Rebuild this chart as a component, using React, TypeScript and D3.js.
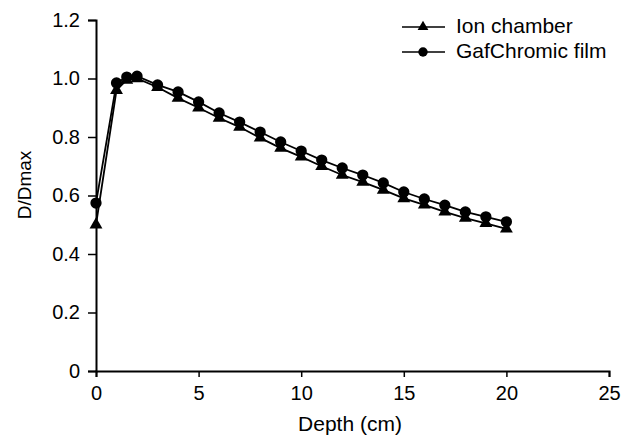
import React, { useEffect, useRef } from 'react';
import * as d3 from 'd3';

// depth (cm) of each measurement
const depths = [0, 1, 1.5, 2, 3, 4, 5, 6, 7, 8, 9, 10, 11, 12, 13, 14, 15, 16, 17, 18, 19, 20];
// D/Dmax, ion chamber
const ionChamber = [0.5, 0.96, 0.995, 1.0, 0.97, 0.933, 0.9, 0.865, 0.834, 0.797, 0.762, 0.732, 0.7, 0.67, 0.646, 0.619, 0.59, 0.568, 0.544, 0.523, 0.505, 0.486];
// D/Dmax, GafChromic film
const gafFilm = [0.574, 0.985, 1.005, 1.008, 0.978, 0.954, 0.92, 0.882, 0.851, 0.817, 0.783, 0.752, 0.721, 0.694, 0.67, 0.643, 0.612, 0.588, 0.567, 0.544, 0.527, 0.51];

const xTicks = [0, 5, 10, 15, 20, 25];
const yTicks = [0, 0.2, 0.4, 0.6, 0.8, 1.0, 1.2];

const seriesNames = ['Ion chamber', 'GafChromic film'];

const W = 637;
const H = 440;
const FONT = '"Liberation Sans", Arial, sans-serif';

const App = () => {
  const svgRef = useRef(null);

  useEffect(() => {
    const svg = d3.select(svgRef.current);
    svg.selectAll('*').remove();

    const x = d3.scaleLinear().domain([0, 25]).range([96, 609]);
    const y = d3.scaleLinear().domain([0, 1.2]).range([371, 20]);

    const xAxis = d3.axisBottom(x).tickValues(xTicks).tickFormat(d3.format('d')).tickSizeOuter(0).tickSize(6).tickPadding(9);
    const yAxis = d3
      .axisLeft(y)
      .tickValues(yTicks)
      .tickFormat(d => (d === 0 ? '0' : d3.format('.1f')(d)))
      .tickSizeOuter(0)
      .tickSize(8)
      .tickPadding(8);

    const gx = svg.append('g').attr('transform', `translate(0,${y(0)})`).call(xAxis);
    const gy = svg.append('g').attr('transform', `translate(${x(0)},0)`).call(yAxis);

    [gx, gy].forEach(g => {
      g.select('.domain').attr('stroke', '#000').attr('stroke-width', 2);
      g.selectAll('.tick line').attr('stroke', '#000').attr('stroke-width', 1.5);
      g.selectAll('.tick text').attr('fill', '#000').style('font-family', FONT).style('font-size', '20px');
    });

    // axis titles
    svg
      .append('text')
      .attr('x', 350)
      .attr('y', 431)
      .attr('text-anchor', 'middle')
      .style('font-family', FONT)
      .style('font-size', '21px')
      .text('Depth (cm)');

    svg
      .append('text')
      .attr('transform', 'translate(31,185) rotate(-90)')
      .attr('text-anchor', 'middle')
      .style('font-family', FONT)
      .style('font-size', '19px')
      .text('D/Dmax');

    const series = [
      { name: seriesNames[0], values: ionChamber, symbol: d3.symbolTriangle, size: 72 },
      { name: seriesNames[1], values: gafFilm, symbol: d3.symbolCircle, size: 100 },
    ];

    const line = d3
      .line()
      .x(d => x(d[0]))
      .y(d => y(d[1]));

    series.forEach(s => {
      const pts = depths.map((d, i) => [d, s.values[i]]);
      svg
        .append('path')
        .attr('d', line(pts))
        .attr('fill', 'none')
        .attr('stroke', '#000')
        .attr('stroke-width', 1.8);
      svg
        .selectAll(null)
        .data(pts)
        .enter()
        .append('path')
        .attr('transform', d => `translate(${x(d[0])},${y(d[1])})`)
        .attr('d', d3.symbol(s.symbol, s.size)())
        .attr('fill', '#000');
    });

    // legend
    const legend = svg.append('g').attr('transform', 'translate(402,27)');
    series.forEach((s, i) => {
      const row = legend.append('g').attr('transform', `translate(0,${i * 25})`);
      row.append('line').attr('x1', 0).attr('x2', 43).attr('y1', 0).attr('y2', 0).attr('stroke', '#000').attr('stroke-width', 1.3);
      row
        .append('path')
        .attr('transform', 'translate(21,0)')
        .attr('d', d3.symbol(s.symbol, s.size * 0.7)())
        .attr('fill', '#000');
      row
        .append('text')
        .attr('x', 54)
        .attr('y', 6)
        .style('font-family', FONT)
        .style('font-size', '21px')
        .text(s.name);
    });
  }, []);

  return (
    <svg
      ref={svgRef}
      width={W}
      height={H}
      style={{ position: 'absolute', left: 0, top: 0, background: '#fff' }}
    ></svg>
  );
};

export default App;
